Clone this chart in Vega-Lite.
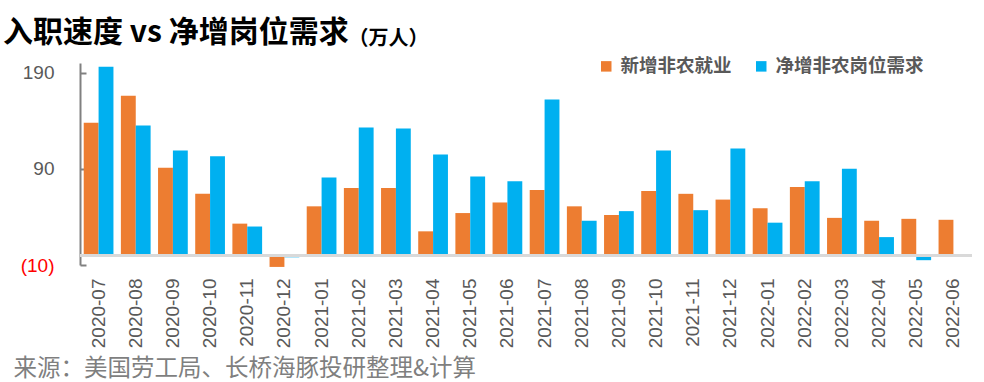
{
  "$schema": "https://vega.github.io/schema/vega-lite/v6.json",
  "width": 892,
  "height": 202,
  "autosize": {"type": "none"},
  "padding": {"left": 80, "top": 63, "right": 12, "bottom": 117},
  "background": "white",
  "title": {
    "text": "入职速度 vs 净增岗位需求",
    "anchor": "start",
    "dx": -10,
    "offset": -20,
    "font": "Noto Sans CJK SC",
    "fontSize": 30,
    "fontWeight": "bold",
    "color": "#000000"
  },
  "config": {"view": {"stroke": null}},
  "data": {
    "values": [
      {"month": "2020-07", "series": "新增非农就业", "value": 138},
      {"month": "2020-07", "series": "净增非农岗位需求", "value": 196},
      {"month": "2020-08", "series": "新增非农就业", "value": 166},
      {"month": "2020-08", "series": "净增非农岗位需求", "value": 135},
      {"month": "2020-09", "series": "新增非农就业", "value": 91},
      {"month": "2020-09", "series": "净增非农岗位需求", "value": 109},
      {"month": "2020-10", "series": "新增非农就业", "value": 64},
      {"month": "2020-10", "series": "净增非农岗位需求", "value": 103},
      {"month": "2020-11", "series": "新增非农就业", "value": 33},
      {"month": "2020-11", "series": "净增非农岗位需求", "value": 30},
      {"month": "2020-12", "series": "新增非农就业", "value": -12},
      {"month": "2020-12", "series": "净增非农岗位需求", "value": -2},
      {"month": "2021-01", "series": "新增非农就业", "value": 51},
      {"month": "2021-01", "series": "净增非农岗位需求", "value": 81},
      {"month": "2021-02", "series": "新增非农就业", "value": 70},
      {"month": "2021-02", "series": "净增非农岗位需求", "value": 133},
      {"month": "2021-03", "series": "新增非农就业", "value": 70},
      {"month": "2021-03", "series": "净增非农岗位需求", "value": 132},
      {"month": "2021-04", "series": "新增非农就业", "value": 25},
      {"month": "2021-04", "series": "净增非农岗位需求", "value": 105},
      {"month": "2021-05", "series": "新增非农就业", "value": 44},
      {"month": "2021-05", "series": "净增非农岗位需求", "value": 82},
      {"month": "2021-06", "series": "新增非农就业", "value": 55},
      {"month": "2021-06", "series": "净增非农岗位需求", "value": 77},
      {"month": "2021-07", "series": "新增非农就业", "value": 68},
      {"month": "2021-07", "series": "净增非农岗位需求", "value": 162},
      {"month": "2021-08", "series": "新增非农就业", "value": 51},
      {"month": "2021-08", "series": "净增非农岗位需求", "value": 36},
      {"month": "2021-09", "series": "新增非农就业", "value": 42},
      {"month": "2021-09", "series": "净增非农岗位需求", "value": 46},
      {"month": "2021-10", "series": "新增非农就业", "value": 67},
      {"month": "2021-10", "series": "净增非农岗位需求", "value": 109},
      {"month": "2021-11", "series": "新增非农就业", "value": 64},
      {"month": "2021-11", "series": "净增非农岗位需求", "value": 47},
      {"month": "2021-12", "series": "新增非农就业", "value": 58},
      {"month": "2021-12", "series": "净增非农岗位需求", "value": 111},
      {"month": "2022-01", "series": "新增非农就业", "value": 49},
      {"month": "2022-01", "series": "净增非农岗位需求", "value": 34},
      {"month": "2022-02", "series": "新增非农就业", "value": 71},
      {"month": "2022-02", "series": "净增非农岗位需求", "value": 77},
      {"month": "2022-03", "series": "新增非农就业", "value": 39},
      {"month": "2022-03", "series": "净增非农岗位需求", "value": 90},
      {"month": "2022-04", "series": "新增非农就业", "value": 36},
      {"month": "2022-04", "series": "净增非农岗位需求", "value": 19},
      {"month": "2022-05", "series": "新增非农就业", "value": 38},
      {"month": "2022-05", "series": "净增非农岗位需求", "value": -5},
      {"month": "2022-06", "series": "新增非农就业", "value": 37}
    ]
  },
  "layer": [
    {
      "mark": {"type": "bar"},
      "encoding": {
        "x": {
          "field": "month",
          "type": "ordinal",
          "scale": {"paddingInner": 0.2, "paddingOuter": 0.1},
          "axis": {
            "title": "来源：美国劳工局、长桥海豚投研整理&计算",
            "labelAngle": -90,
            "labelAlign": "right",
            "labelBaseline": "middle",
            "labelPadding": 13,
            "domain": false,
            "ticks": false,
            "labelFont": "Liberation Sans",
            "labelFontSize": 19,
            "labelColor": "#595959",
            "titleFont": "Noto Sans CJK SC",
            "titleFontSize": 23.5,
            "titleFontWeight": "normal",
            "titleColor": "#7f7f7f",
            "titleAnchor": "start",
            "titleAlign": "left",
            "titleBaseline": "alphabetic",
            "titleX": -67,
            "titleY": 110
          }
        },
        "xOffset": {"field": "series", "type": "nominal", "sort": ["新增非农就业", "净增非农岗位需求"]},
        "y": {
          "field": "value",
          "type": "quantitative",
          "scale": {"domain": [-10, 200], "nice": false, "zero": false},
          "axis": {
            "values": [190, 90, -10],
            "labelExpr": "datum.value < 0 ? '(' + abs(datum.value) + ')' : datum.label",
            "labelColor": {"condition": {"test": "datum.value < 0", "value": "#FF0000"}, "value": "#595959"},
            "grid": false,
            "domainColor": "#808080",
            "domainWidth": 2,
            "tickColor": "#808080",
            "tickWidth": 2,
            "tickSize": -6,
            "labelFont": "Liberation Sans",
            "labelFontSize": 19,
            "labelPadding": 32,
            "title": "（万人）",
            "titleAngle": 0,
            "titleX": 268,
            "titleY": -19,
            "titleAlign": "left",
            "titleBaseline": "alphabetic",
            "titleFont": "Noto Sans CJK SC",
            "titleFontSize": 20,
            "titleFontWeight": "bold",
            "titleColor": "#000000"
          }
        },
        "color": {
          "field": "series",
          "type": "nominal",
          "scale": {"domain": ["新增非农就业", "净增非农岗位需求"], "range": ["#ED7D31", "#00B0F0"]},
          "legend": {
            "orient": "none",
            "legendX": 517,
            "legendY": -6,
            "direction": "horizontal",
            "title": null,
            "symbolType": "square",
            "symbolSize": 110,
            "symbolStrokeWidth": 0,
            "labelFont": "Noto Sans CJK SC",
            "labelFontSize": 18.5,
            "labelFontWeight": "bold",
            "labelColor": "#595959",
            "labelOffset": 5,
            "columnPadding": 20
          }
        }
      }
    },
    {
      "mark": {"type": "rule", "color": "#d9d9d9", "strokeWidth": 3},
      "encoding": {"y": {"datum": 0}}
    }
  ]
}
